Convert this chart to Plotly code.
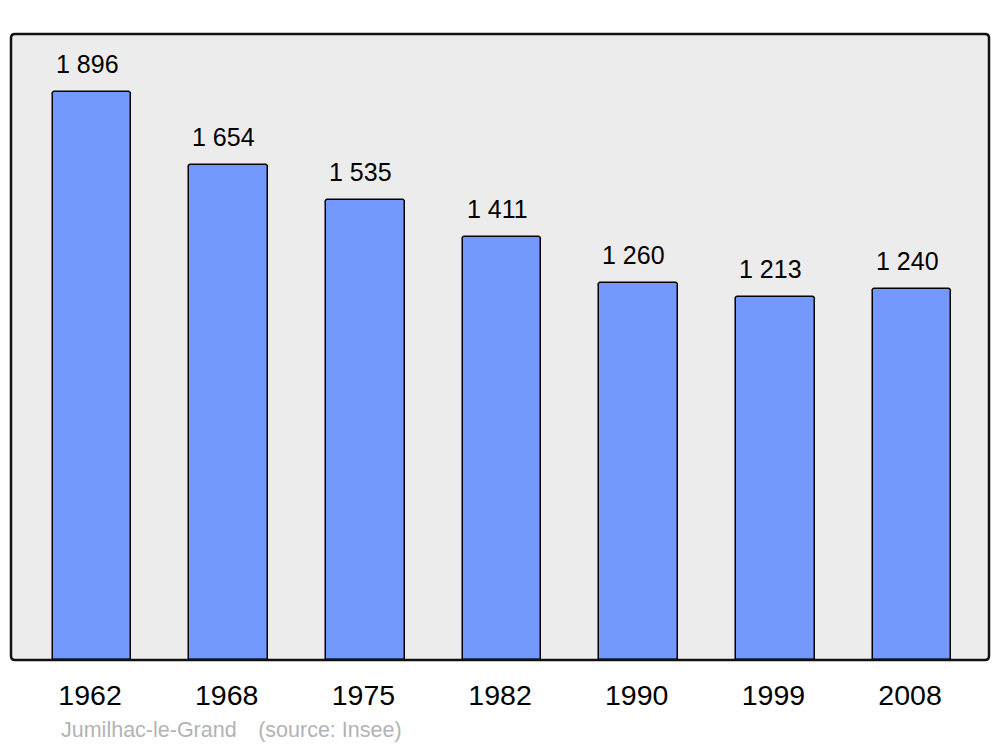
import plotly.graph_objects as go

years = ["1962", "1968", "1975", "1982", "1990", "1999", "2008"]
population = [1896, 1654, 1535, 1411, 1260, 1213, 1240]
value_labels = ["1 896", "1 654", "1 535", "1 411", "1 260", "1 213", "1 240"]
source_text = "Jumilhac-le-Grand\u2003(source: Insee)"

xpos = list(range(len(years)))

fig = go.Figure()
fig.add_trace(go.Bar(
    x=xpos, y=population, width=0.575,
    marker=dict(color="#7399ff", line=dict(color="#000000", width=1.5), cornerradius=3),
    hoverinfo="skip",
))

for xi, v, lab in zip(xpos, population, value_labels):
    fig.add_annotation(x=xi, y=v, text=lab, showarrow=False, xanchor="center", yanchor="middle",
                       yshift=28, xshift=-5,
                       font=dict(family="Liberation Sans, Arial, sans-serif", size=25, color="#000000"))

fig.add_annotation(x=0.049, xref="paper", xanchor="left", y=-0.112, yref="paper", yanchor="middle",
                   text=source_text, showarrow=False,
                   font=dict(family="Liberation Sans, Arial, sans-serif", size=21.5, color="#b3b3b3"))

# rounded frame
W, H = 978.0, 626.0
r = 4.0
rx, ry = r / W, r / H
path = (f"M {rx},0 L {1-rx},0 Q 1,0 1,{ry} L 1,{1-ry} Q 1,1 {1-rx},1 "
        f"L {rx},1 Q 0,1 0,{1-ry} L 0,{ry} Q 0,0 {rx},0 Z")
fig.add_shape(type="path", xref="paper", yref="paper", path=path,
              line=dict(color="#111111", width=2.5), fillcolor="rgba(0,0,0,0)", layer="above")

fig.update_layout(
    width=1000, height=747,
    margin=dict(l=11, r=11, t=34, b=87),
    paper_bgcolor="#ffffff", plot_bgcolor="#ececec",
    showlegend=False,
    bargap=0,
    xaxis=dict(range=[-0.593, 6.563], tickvals=xpos, ticktext=years, showgrid=False, zeroline=False,
               showline=False, ticks="outside", ticklen=10, tickcolor="rgba(0,0,0,0)",
               ticklabelshift=-2,
               tickfont=dict(family="Liberation Sans, Arial, sans-serif", size=28.5, color="#000000"),
               fixedrange=True),
    yaxis=dict(range=[0, 2090], showgrid=False, zeroline=False, showline=False, showticklabels=False,
               fixedrange=True),
)

fig.write_html("out.html", config={"displayModeBar": False},
               post_script="document.body.style.margin='0';document.body.style.overflow='hidden';")
